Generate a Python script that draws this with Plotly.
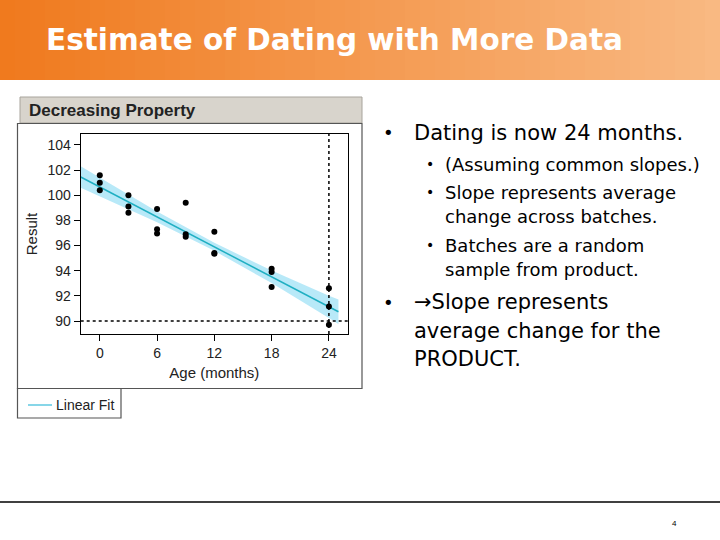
import plotly.graph_objects as go

# ---------------- data ----------------
ages = [0, 0, 0, 3, 3, 3, 6, 6, 6, 9, 9, 9, 12, 12, 12, 18, 18, 18, 24, 24, 24]
results = [101.6, 101.0, 100.4, 100.0, 99.1, 98.6, 98.9, 97.3, 96.95,
           99.4, 96.9, 96.7, 97.1, 95.4, 95.35, 94.15, 93.9, 92.7, 92.6, 91.15, 89.7]

fit_x = [-2, 0, 6, 12, 18, 24, 25]
fit_y = [101.45, 100.66, 98.28, 95.90, 93.52, 91.13, 90.74]
band_upper = [102.31, 101.40, 98.70, 96.22, 94.02, 92.01, 91.72]
band_lower = [100.59, 99.92, 97.86, 95.58, 93.02, 90.25, 89.76]

x_ticks = [0, 6, 12, 18, 24]
y_ticks = [90, 92, 94, 96, 98, 100, 102, 104]
dating_month = 24
spec_limit = 90

title_text = "Estimate of Dating with More Data"
panel_title = "Decreasing Property"
legend_label = "Linear Fit"
bullets = [
    ("main", "Dating is now 24 months.", 133),
    ("sub", "(Assuming common slopes.)", 164),
    ("sub", "Slope represents average", 192),
    ("cont", "change across batches.", 216),
    ("sub", "Batches are a random", 245),
    ("cont", "sample from product.", 269),
    ("main", "\u2192Slope represents", 302),
    ("maincont", "average change for the", 331),
    ("maincont", "PRODUCT.", 359),
]

W, H = 720, 540
def px(x): return x / W
def py(y): return 1 - y / H

SLIDE_FONT = "DejaVu Sans, Liberation Sans, Arial"
CHART_FONT = "Liberation Sans, Arial"

fig = go.Figure()

# confidence band
fig.add_trace(go.Scatter(x=fit_x, y=band_upper, mode="lines", line=dict(width=0),
                         showlegend=False, hoverinfo="skip"))
fig.add_trace(go.Scatter(x=fit_x, y=band_lower, mode="lines", line=dict(width=0),
                         fill="tonexty", fillcolor="rgba(160,225,245,0.75)",
                         showlegend=False, hoverinfo="skip"))
# fit line
fig.add_trace(go.Scatter(x=fit_x, y=fit_y, mode="lines", line=dict(color="#1FAFC2", width=1.5),
                         name=legend_label, showlegend=False))
# points
fig.add_trace(go.Scatter(x=ages, y=results, mode="markers",
                         marker=dict(color="black", size=6), showlegend=False))

shapes = []
# banner gradient
left = (240, 122, 30)
right = (249, 185, 130)
n = 48
for i in range(n):
    t = i / (n - 1)
    c = tuple(int(left[k] + (right[k] - left[k]) * t) for k in range(3))
    shapes.append(dict(type="rect", xref="paper", yref="paper",
                       x0=px(W * i / n), x1=px(W * (i + 1) / n + 1), y0=py(80), y1=py(0),
                       fillcolor="rgb(%d,%d,%d)" % c, line=dict(width=0), layer="below"))
# panel header
shapes.append(dict(type="rect", xref="paper", yref="paper", x0=px(20), x1=px(362), y0=py(123), y1=py(97),
                   fillcolor="#D8D4CC", line=dict(color="#A8A49C", width=1), layer="below"))
# panel frame
shapes.append(dict(type="rect", xref="paper", yref="paper", x0=px(17.5), x1=px(362), y0=py(388.5), y1=py(123.5),
                   fillcolor="rgba(0,0,0,0)", line=dict(color="#555555", width=1.2), layer="below"))
# legend box
shapes.append(dict(type="rect", xref="paper", yref="paper", x0=px(17.5), x1=px(121), y0=py(418), y1=py(388.5),
                   fillcolor="rgba(0,0,0,0)", line=dict(color="#555555", width=1.2), layer="below"))
shapes.append(dict(type="line", xref="paper", yref="paper", x0=px(28), x1=px(52), y0=py(405), y1=py(405),
                   line=dict(color="#5FC8E0", width=1.5)))
# footer line
shapes.append(dict(type="line", xref="paper", yref="paper", x0=0, x1=1, y0=py(502), y1=py(502),
                   line=dict(color="black", width=1.3)))
# reference lines
shapes.append(dict(type="line", xref="x", yref="y domain", x0=dating_month, x1=dating_month, y0=0, y1=1,
                   line=dict(color="black", width=1.5, dash="dot")))
shapes.append(dict(type="line", xref="x domain", yref="y", x0=0, x1=1, y0=spec_limit, y1=spec_limit,
                   line=dict(color="black", width=1.5, dash="dot")))

annotations = [
    dict(text="<b>" + title_text + "</b>", x=px(44), y=py(40), xref="paper", yref="paper",
         xanchor="left", yanchor="middle", showarrow=False,
         font=dict(family=SLIDE_FONT, size=29.5, color="white")),
    dict(text="<b>" + panel_title + "</b>", x=px(27), y=py(110), xref="paper", yref="paper",
         xanchor="left", yanchor="middle", showarrow=False,
         font=dict(family=CHART_FONT, size=17, color="#222222")),
    dict(text=legend_label, x=px(54), y=py(405), xref="paper", yref="paper",
         xanchor="left", yanchor="middle", showarrow=False,
         font=dict(family=CHART_FONT, size=14, color="#222222")),
    dict(text="4", x=px(674), y=py(523), xref="paper", yref="paper",
         xanchor="center", yanchor="middle", showarrow=False,
         font=dict(family=CHART_FONT, size=8, color="black")),
]
for kind, txt, y in bullets:
    if kind in ("main", "maincont"):
        if kind == "main":
            annotations.append(dict(text="\u2022", x=px(381), y=py(y), xref="paper", yref="paper",
                                    xanchor="left", yanchor="middle", showarrow=False,
                                    font=dict(family=SLIDE_FONT, size=18, color="black")))
        annotations.append(dict(text=txt, x=px(412), y=py(y), xref="paper", yref="paper",
                                xanchor="left", yanchor="middle", showarrow=False,
                                font=dict(family=SLIDE_FONT, size=21, color="black")))
    else:
        if kind == "sub":
            annotations.append(dict(text="\u2022", x=px(424), y=py(y), xref="paper", yref="paper",
                                    xanchor="left", yanchor="middle", showarrow=False,
                                    font=dict(family=SLIDE_FONT, size=14, color="black")))
        annotations.append(dict(text=txt, x=px(443), y=py(y), xref="paper", yref="paper",
                                xanchor="left", yanchor="middle", showarrow=False,
                                font=dict(family=SLIDE_FONT, size=18, color="black")))

axis_font = dict(family=CHART_FONT, size=14, color="#222222")
fig.update_layout(
    width=W, height=H, margin=dict(l=0, r=0, t=0, b=0),
    paper_bgcolor="white", plot_bgcolor="white",
    shapes=shapes, annotations=annotations,
    xaxis=dict(domain=[px(80.7), px(348)], range=[-2, 26], tickvals=x_ticks,
               ticks="outside", ticklen=6, tickcolor="black", showline=True, linecolor="black",
               linewidth=1.2, mirror=True, showgrid=False, zeroline=False, tickfont=axis_font,
               title=dict(text="Age (months)", font=dict(family=CHART_FONT, size=15, color="#222222"),
                          standoff=7)),
    yaxis=dict(domain=[py(334), py(134)], range=[88.97, 104.87], tickvals=y_ticks,
               ticks="outside", ticklen=6, tickcolor="black", showline=True, linecolor="black",
               linewidth=1.2, mirror=True, showgrid=False, zeroline=False, tickfont=axis_font,
               title=dict(text="Result", font=dict(family=CHART_FONT, size=15, color="#222222"),
                          standoff=6)),
)

fig.write_html("out.html", config={"displayModeBar": False},
               post_script="document.body.style.margin='0';document.body.style.padding='0';")
